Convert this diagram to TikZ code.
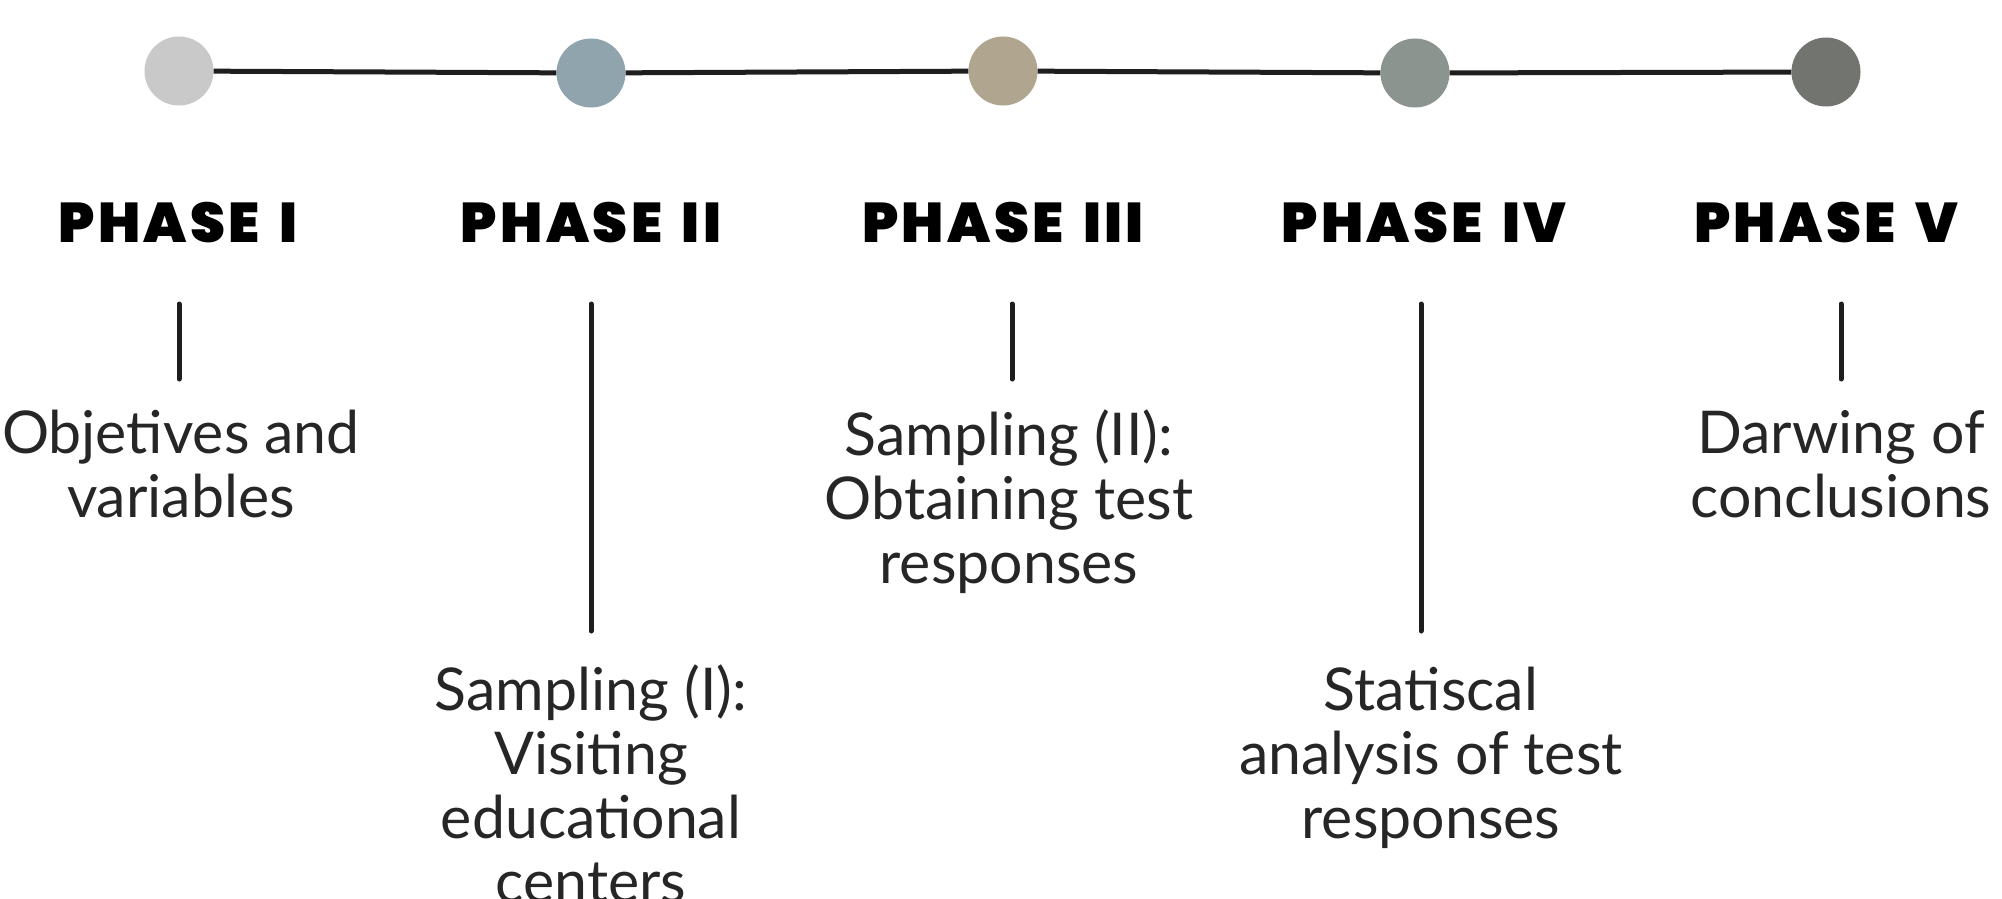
\documentclass[tikz,border=0pt]{standalone}
\usepackage{fontspec}
\setmainfont{Lato}
\newfontfamily\headfont{Poppins Black}[LetterSpace=6, WordSpace=1.5]
\usepackage{tikz}

\definecolor{dotone}{HTML}{C9C9C9}
\definecolor{dottwo}{HTML}{8FA4AD}
\definecolor{dotthree}{HTML}{B0A68F}
\definecolor{dotfour}{HTML}{8B948E}
\definecolor{dotfive}{HTML}{72756F}
\definecolor{textgray}{HTML}{262626}
\definecolor{linegray}{HTML}{1E1E1E}

\begin{document}
\begin{tikzpicture}[x=1pt, y=-1pt, line cap=round,
  dot/.style={circle, inner sep=0pt, minimum size=69pt},
  phase/.style={anchor=base, inner sep=0pt, font=\headfont\fontsize{56}{56}\selectfont},
  desc/.style={anchor=base, align=center, inner sep=0pt, text=textgray, font=\fontsize{59}{64}\selectfont},
  tick/.style={draw=linegray, line width=5pt}]
  \useasboundingbox[fill=white] (0,0) rectangle (2002,899);
  % timeline
  \node[dot, fill=dotone]   (d1) at (179,71) {};
  \node[dot, fill=dottwo]   (d2) at (591,73) {};
  \node[dot, fill=dotthree] (d3) at (1003,71) {};
  \node[dot, fill=dotfour]  (d4) at (1415,73) {};
  \node[dot, fill=dotfive]  (d5) at (1826,72) {};
  \draw[linegray, line width=5pt, line cap=butt] (d1) -- (d2) -- (d3) -- (d4) -- (d5);
  % phase titles
  \node[phase] (p1) at (178,242) {PHASE I};
  \node[phase] (p2) at (591,242) {PHASE II};
  \node[phase] (p3) at (1003,242) {PHASE III};
  \node[phase] (p4) at (1424,242) {PHASE IV};
  \node[phase] (p5) at (1826,242) {PHASE V};
  % ticks
  \coordinate (t1) at (179,304);  \coordinate (b1) at (179,379);
  \coordinate (t2) at (591,304);  \coordinate (b2) at (591,631);
  \coordinate (t3) at (1012,304); \coordinate (b3) at (1012,379);
  \coordinate (t4) at (1421,304); \coordinate (b4) at (1421,631);
  \coordinate (t5) at (1841,304); \coordinate (b5) at (1841,379);
  \draw[tick] (t1) -- (b1);
  \draw[tick] (t2) -- (b2);
  \draw[tick] (t3) -- (b3);
  \draw[tick] (t4) -- (b4);
  \draw[tick] (t5) -- (b5);
  % descriptions (anchored at the last line)
  \node[desc] (s1) at (181,517) {Objetives and\\variables};
  \node[desc] (s2) at (591,902) {Sampling (I):\\Visiting\\educational\\centers};
  \node[desc] (s3) at (1009,583) {Sampling (II):\\Obtaining test\\responses};
  \node[desc] (s4) at (1431,838) {Statiscal\\analysis of test\\responses};
  \node[desc] (s5) at (1841,517) {Darwing of\\conclusions};
\end{tikzpicture}
\end{document}
